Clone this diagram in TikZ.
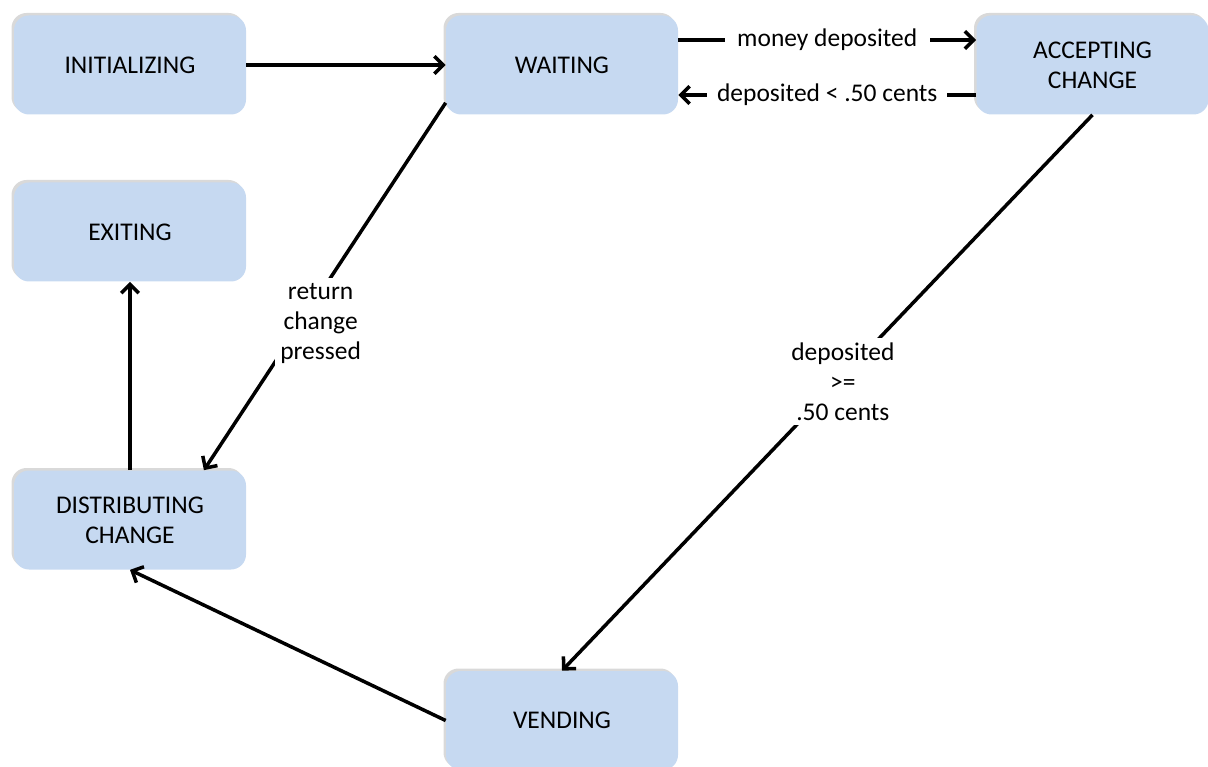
\documentclass[tikz,border=0pt]{standalone}
\usepackage{fontspec}
\setmainfont{Carlito}
\usetikzlibrary{arrows.meta,shadows}
\definecolor{statefill}{HTML}{C6D9F1}
\begin{document}
\begin{tikzpicture}[>={Straight Barb[length=5pt,width=10pt]}]
    \useasboundingbox (0,0) rectangle (24.16,15.32);
    \tikzset{state/.style={rectangle, rounded corners=.3cm, fill=statefill, minimum width=4.64cm, minimum height=1.98cm, align=center, font=\fontsize{14.5}{17}\selectfont, drop shadow={shadow xshift=-.05cm, shadow yshift=.05cm, opacity=.3}}}
    \tikzset{lbl/.style={fill=white, align=center, inner sep=.25cm, font=\fontsize{14.5}{17}\selectfont}}
    \tikzset{conn/.style={->, line width=2pt}}
    \node[state] (init) at (2.6,14.02) {INITIALIZING};
    \node[state] (wait) at (11.24,14.02) {WAITING};
    \node[state] (accept) at (21.85,14.02) {ACCEPTING\\ CHANGE};
    \node[state] (exit) at (2.6,10.68) {EXITING};
    \node[state] (distrib) at (2.6,4.92) {DISTRIBUTING\\ CHANGE};
    \node[state] (vend) at (11.24,0.91) {VENDING};
    \draw[conn] (init.east) -- (wait.west);
    \draw[conn] ([yshift=.5cm]wait.east) -- node[lbl] {money deposited} ([yshift=.5cm]accept.west); %label
    \draw[conn] ([yshift=-.6cm]accept.west) -- node[lbl, inner sep=.2cm] {deposited < .50 cents} ([yshift=-.6cm]wait.east); %label
    \draw[conn] (wait.198.6) -- node[lbl, pos=.6, xshift=.4cm, inner sep=.1cm] {return\\ change\\ pressed} (distrib.34);
    \draw[conn] (accept.south) -- node[lbl, pos=.48, xshift=.1cm, inner sep=.1cm] {deposited\\ >=\\ .50 cents} (vend.north);
    \draw[conn] (vend.west) -- (distrib.south);
    \draw[conn] (distrib.north) -- (exit.south);
\end{tikzpicture}
\end{document}
